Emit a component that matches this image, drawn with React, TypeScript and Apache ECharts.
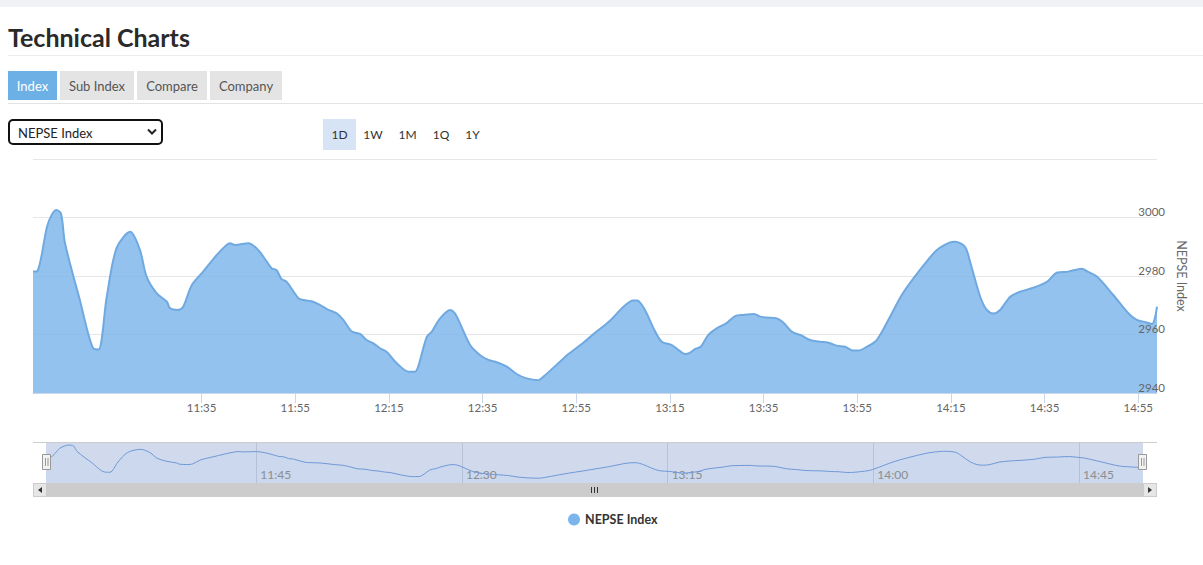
import React, { useEffect, useRef } from "react";
import * as echarts from "echarts";

// ---- data ----
const seriesName = "NEPSE Index";
const times = [
  "10:59:00", "11:00:00", "11:02:00", "11:03:00", "11:04:00", "11:05:00", "11:05:50", "11:09:00",
  "11:11:50", "11:13:00", "11:14:45", "11:16:50", "11:19:45", "11:21:50", "11:23:15", "11:25:25",
  "11:27:35", "11:28:15", "11:30:00", "11:31:05", "11:32:55", "11:35:20", "11:38:15", "11:40:20",
  "11:41:05", "11:42:10", "11:45:00", "11:47:05", "11:48:55", "11:50:00", "11:51:00", "11:52:05",
  "11:53:10", "11:55:40", "11:56:45", "11:58:50", "12:00:15", "12:02:05", "12:03:50", "12:05:15",
  "12:07:05", "12:08:50", "12:10:15", "12:11:40", "12:13:05", "12:14:30", "12:16:40", "12:19:10",
  "12:20:35", "12:21:15", "12:23:05", "12:24:10", "12:25:55", "12:28:05", "12:29:05", "12:30:10",
  "12:32:20", "12:34:25", "12:36:15", "12:38:00", "12:40:10", "12:42:15", "12:44:25", "12:46:55",
  "12:48:00", "12:51:10", "12:53:20", "12:56:30", "12:59:20", "13:02:15", "13:05:05", "13:07:10",
  "13:08:00", "13:09:40", "13:11:30", "13:13:15", "13:15:25", "13:16:50", "13:18:15", "13:19:20",
  "13:20:20", "13:21:35", "13:23:10", "13:25:00", "13:27:10", "13:28:55", "13:30:40", "13:33:00",
  "13:34:15", "13:35:40", "13:37:50", "13:39:15", "13:41:00", "13:43:10", "13:44:55", "13:47:05",
  "13:48:50", "13:50:35", "13:52:25", "13:54:10", "13:55:15", "13:57:00", "13:59:10", "14:02:00",
  "14:04:30", "14:07:00", "14:09:30", "14:12:00", "14:14:50", "14:15:55", "14:18:00", "14:19:05",
  "14:21:15", "14:22:40", "14:24:05", "14:25:30", "14:27:40", "14:29:45", "14:32:35", "14:35:30",
  "14:37:35", "14:40:05", "14:42:55", "14:44:20", "14:46:10", "14:49:40", "14:52:55", "14:54:40",
  "14:56:05", "14:57:55", "14:59:00",
];
const values = [
  2981.5, 2981.8, 2996.9, 3000.9, 3002.6, 3001.2, 2991.2, 2971.8,
  2955.3, 2954.9, 2972.9, 2989.5, 2995.1, 2988.9, 2979.8, 2974.1,
  2971.2, 2969.0, 2968.4, 2969.5, 2976.9, 2981.5, 2987.2, 2990.6,
  2991.2, 2990.6, 2991.2, 2988.9, 2984.9, 2982.6, 2982.0, 2978.9,
  2978.0, 2972.4, 2971.8, 2971.2, 2970.1, 2968.4, 2967.2, 2965.0,
  2961.0, 2960.2, 2958.1, 2957.0, 2955.3, 2954.1, 2950.2, 2947.3,
  2947.3, 2949.0, 2959.2, 2961.0, 2965.5, 2968.4, 2967.2, 2963.8,
  2956.4, 2953.0, 2951.3, 2950.5, 2949.0, 2946.5, 2945.0, 2944.4,
  2945.6, 2950.2, 2953.3, 2957.2, 2961.0, 2964.8, 2969.5, 2971.6,
  2971.6, 2968.4, 2962.1, 2957.5, 2956.4, 2954.7, 2953.3, 2953.8,
  2955.0, 2955.8, 2959.8, 2962.1, 2964.0, 2966.3, 2966.7, 2967.0,
  2966.1, 2965.8, 2965.5, 2964.0, 2961.0, 2959.6, 2958.1, 2957.5,
  2957.2, 2956.2, 2955.8, 2954.5, 2954.5, 2955.8, 2958.1, 2966.1,
  2973.5, 2979.2, 2984.3, 2988.9, 2991.5, 2991.7, 2990.0, 2984.9,
  2972.9, 2968.4, 2967.2, 2968.4, 2972.9, 2974.6, 2976.0, 2978.0,
  2981.1, 2981.5, 2982.5, 2981.4, 2979.8, 2973.5, 2967.2, 2965.0,
  2964.4, 2963.6, 2969.5,
];
const mainTickLabels = ["11:35", "11:55", "12:15", "12:35", "12:55", "13:15", "13:35", "13:55", "14:15", "14:35", "14:55"];
const navTickLabels = ["11:45", "12:30", "13:15", "14:00", "14:45"];
const yTickLabels = [2940, 2960, 2980, 3000];
const pageTitle = "Technical Charts";
const tabLabels = ["Index", "Sub Index", "Compare", "Company"];
const rangeLabels = ["1D", "1W", "1M", "1Q", "1Y"];
const selectLabel = "NEPSE Index";

// ---- helpers: time of day as minutes since midnight ----
function toMin(hms: string): number {
  const [h, m, s] = hms.split(":").map(Number);
  return h * 60 + m + (s || 0) / 60;
}
function fmt(v: number): string {
  const total = Math.round(v);
  const h = Math.floor(total / 60);
  const m = total % 60;
  return String(h).padStart(2, "0") + ":" + String(m).padStart(2, "0");
}

const FONT = 'Lato, "Noto Sans", sans-serif';

export default function App() {
  const ref = useRef<HTMLDivElement>(null);

  useEffect(() => {
    if (!ref.current) return;
    const chart = echarts.init(ref.current, null, { renderer: "svg" });

    const data = times.map((t, i) => [toMin(t), values[i]]);
    const xMin = toMin(times[0]);
    const xMax = toMin(times[times.length - 1]);
    const mainTicks = mainTickLabels.map((t) => toMin(t));
    const navTicks = navTickLabels.map((t) => toMin(t));

    // header UI geometry
    const tabX = [8, 60, 137, 210];
    const tabW = [49, 74, 70, 72];
    const rangeX = [339.5, 373, 407.5, 441, 472.5];

    const elements: any[] = [
      { type: "rect", shape: { x: 0, y: 0, width: 1203, height: 7 }, style: { fill: "#f0f2f5" } },
      {
        type: "text", x: 8, y: 37,
        style: { text: pageTitle, fontFamily: FONT, fontWeight: "bold", fontSize: 25, fill: "#2a2a2a", verticalAlign: "middle" },
      },
      { type: "line", shape: { x1: 8, y1: 55.5, x2: 1203, y2: 55.5 }, style: { stroke: "#ececec", lineWidth: 1 } },
      { type: "line", shape: { x1: 8, y1: 103.5, x2: 1203, y2: 103.5 }, style: { stroke: "#e3e3e3", lineWidth: 1 } },
      {
        type: "rect", shape: { x: 9, y: 120, width: 153, height: 24, r: 4 },
        style: { fill: "#ffffff", stroke: "#111111", lineWidth: 2 },
      },
      {
        type: "text", x: 18, y: 133,
        style: { text: selectLabel, fontFamily: FONT, fontSize: 13, fill: "#222", verticalAlign: "middle" },
      },
      {
        type: "polyline", shape: { points: [[148, 129.5], [152, 133.5], [156, 129.5]] },
        style: { stroke: "#222", lineWidth: 2, fill: null },
      },
      { type: "rect", shape: { x: 323, y: 119, width: 33, height: 31 }, style: { fill: "#d6e4f5" } },
      { type: "line", shape: { x1: 33, y1: 442.5, x2: 1157, y2: 442.5 }, style: { stroke: "#cccccc", lineWidth: 1 }, z: 50 },
      { type: "rect", shape: { x: 33, y: 483, width: 1124, height: 14 }, style: { fill: "#cccccc" }, z: 50 },
      { type: "rect", shape: { x: 33.5, y: 483.5, width: 13, height: 13 }, style: { fill: "#e6e6e6", stroke: "#cccccc", lineWidth: 1 }, z: 51 },
      { type: "rect", shape: { x: 1143.5, y: 483.5, width: 13, height: 13 }, style: { fill: "#e6e6e6", stroke: "#cccccc", lineWidth: 1 }, z: 51 },
      { type: "polygon", shape: { points: [[38, 490], [42, 487], [42, 493]] }, style: { fill: "#333" }, z: 52 },
      { type: "polygon", shape: { points: [[1152, 490], [1148, 487], [1148, 493]] }, style: { fill: "#333" }, z: 52 },
      ...[591.5, 594.5, 597.5].map((x) => ({
        type: "line", shape: { x1: x, y1: 487, x2: x, y2: 493 }, style: { stroke: "#333", lineWidth: 1 }, z: 52,
      })),
      ...[46.5, 1142.5].flatMap((cx) => [
        { type: "rect", shape: { x: cx - 4, y: 454.5, width: 8, height: 15 }, style: { fill: "#f2f2f2", stroke: "#999999", lineWidth: 1 }, z: 60 },
        { type: "line", shape: { x1: cx - 1, y1: 458, x2: cx - 1, y2: 466 }, style: { stroke: "#999999", lineWidth: 1 }, z: 61 },
        { type: "line", shape: { x1: cx + 1.5, y1: 458, x2: cx + 1.5, y2: 466 }, style: { stroke: "#999999", lineWidth: 1 }, z: 61 },
      ]),
    ];

    tabLabels.forEach((label, i) => {
      const active = i === 0;
      elements.push({
        type: "rect", shape: { x: tabX[i], y: 71, width: tabW[i], height: 29 },
        style: { fill: active ? "#6cb0e6" : "#e4e4e4" },
      });
      elements.push({
        type: "text", x: tabX[i] + tabW[i] / 2, y: 85.5,
        style: { text: label, fontFamily: FONT, fontSize: 13, fill: active ? "#ffffff" : "#555555", align: "center", verticalAlign: "middle" },
      });
    });
    rangeLabels.forEach((label, i) => {
      elements.push({
        type: "text", x: rangeX[i], y: 134.5,
        style: { text: label, fontFamily: FONT, fontSize: 12, fill: "#333333", align: "center", verticalAlign: "middle" },
      });
    });

    const option: any = {
      animation: false,
      backgroundColor: "#ffffff",
      textStyle: { fontFamily: FONT },
      legend: {
        data: [{ name: seriesName, icon: "circle" }],
        left: 563, top: 508,
        itemWidth: 12, itemHeight: 12,
        textStyle: { fontFamily: FONT, fontWeight: "bold", fontSize: 12.5, color: "#333333" },
        selectedMode: false,
      },
      grid: [
        { left: 33, top: 159, width: 1124, height: 234, containLabel: false },
        {
          left: 46, top: 442, width: 1097, height: 41, containLabel: false,
          show: true, backgroundColor: "rgba(102,133,194,0.3)", borderWidth: 0,
        },
      ],
      xAxis: [
        {
          type: "value", gridIndex: 0, min: xMin, max: xMax,
          axisLine: { show: true, onZero: false, lineStyle: { color: "#ccd6eb" } },
          axisTick: { show: true, customValues: mainTicks, length: 10, lineStyle: { color: "#ccd6eb" } },
          axisLabel: {
            show: true, customValues: mainTicks, formatter: (v: number) => fmt(v),
            color: "#666666", fontSize: 11.5, fontFamily: FONT, margin: 8,
          },
          splitLine: { show: false },
        },
        {
          type: "value", gridIndex: 1, min: xMin, max: xMax,
          axisLine: { show: false, onZero: false },
          axisTick: { show: true, customValues: navTicks, inside: true, length: 41, lineStyle: { color: "#b9c1d6" } },
          axisLabel: {
            show: true, customValues: navTicks, inside: true, formatter: (v: number) => fmt(v),
            color: "#8c8c8c", fontSize: 12, fontFamily: FONT, margin: 9, align: "left",
            verticalAlign: "middle", padding: [0, 0, 0, 4],
          },
          splitLine: { show: false },
        },
      ],
      yAxis: [
        {
          type: "value", gridIndex: 0, position: "right", min: 2940, max: 3020, interval: 20,
          axisLine: { show: false }, axisTick: { show: false }, axisLabel: { show: false },
          splitLine: { show: true, lineStyle: { color: "#e6e6e6" } },
          name: seriesName, nameLocation: "middle", nameRotate: -90, nameGap: 18,
          nameTextStyle: { color: "#666666", fontSize: 12.5, fontFamily: FONT },
        },
        {
          type: "value", gridIndex: 0, position: "right", min: 2940, max: 3020, interval: 20, z: 5,
          axisLine: { show: false }, axisTick: { show: false }, splitLine: { show: false },
          axisLabel: {
            show: true, customValues: yTickLabels, align: "right", margin: 8,
            formatter: (v: number) => String(v),
            verticalAlign: "bottom", color: "#666666", fontSize: 11.5, fontFamily: FONT,
          },
        },
        {
          type: "value", gridIndex: 1, min: 2936, max: 3008, show: false,
          splitLine: { show: false },
        },
      ],
      series: [
        {
          name: seriesName, type: "line", xAxisIndex: 0, yAxisIndex: 0,
          data, showSymbol: false, smooth: 0.3, silent: true,
          itemStyle: { color: "#7cb5ec" },
          lineStyle: { color: "#6fa9e0", width: 2 },
          areaStyle: { color: "rgba(124,181,236,0.82)", opacity: 1 },
        },
        {
          name: "navigator", type: "line", xAxisIndex: 1, yAxisIndex: 2,
          data, showSymbol: false, smooth: 0.3, silent: true,
          itemStyle: { color: "#6f98d6" },
          lineStyle: { color: "#6f98d6", width: 1 },
          areaStyle: { color: "rgba(124,181,236,0.06)", opacity: 1 },
        },
      ],
      graphic: { elements },
    };

    chart.setOption(option);
    return () => chart.dispose();
  }, []);

  return (
    <div
      ref={ref}
      style={{ position: "absolute", left: 0, top: 0, width: 1203, height: 565 }}
    />
  );
}
